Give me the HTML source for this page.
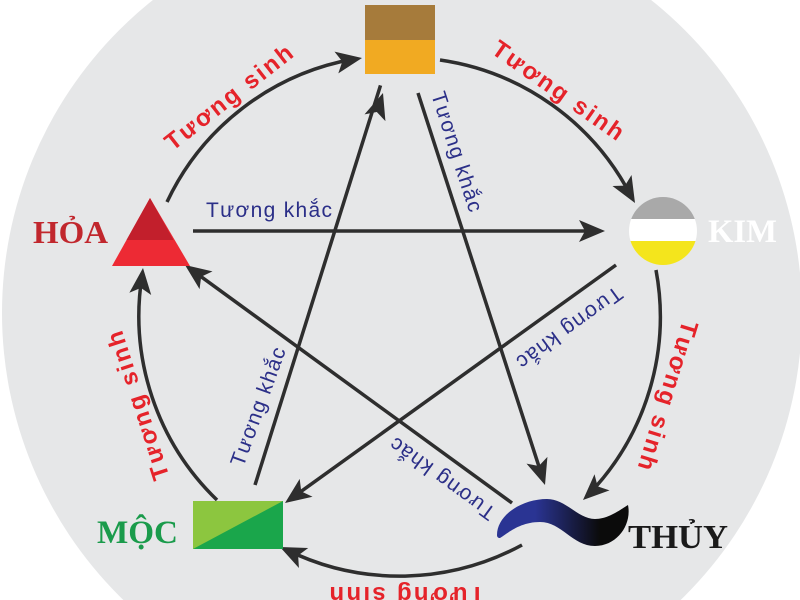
<!DOCTYPE html>
<html>
<head>
<meta charset="utf-8">
<style>
html,body{margin:0;padding:0;background:#fff;width:800px;height:600px;overflow:hidden;}
svg{display:block;overflow:hidden;}
.red{font-family:"Liberation Sans",Arial,sans-serif;font-weight:bold;font-size:24px;fill:#e5232a;}
.navy{font-family:"Liberation Sans",Arial,sans-serif;font-size:21px;fill:#2b2f88;}
.el{font-family:"Liberation Serif","Times New Roman",serif;font-weight:bold;}
</style>
</head>
<body>
<svg width="800" height="600" viewBox="0 0 800 600" xmlns="http://www.w3.org/2000/svg">
  <defs>
    <linearGradient id="wave" x1="535" y1="0" x2="600" y2="0" gradientUnits="userSpaceOnUse">
      <stop offset="0" stop-color="#2a3493"/>
      <stop offset="1" stop-color="#0b0b0b"/>
    </linearGradient>
    <clipPath id="frame"><rect x="0" y="0" width="800" height="600"/></clipPath>
    <clipPath id="kc"><circle cx="663" cy="231" r="34"/></clipPath>
  </defs>
  <g clip-path="url(#frame)">
  <rect width="800" height="600" fill="#ffffff"/>
  <circle cx="402" cy="313" r="400" fill="#e6e7e8"/>

  <!-- Tương khắc straight lines -->
  <g stroke="#2e2e2e" stroke-width="3.5" fill="none">
    <path d="M193,231 L597,231"/>
    <path d="M418,93 L542.5,477.4"/>
    <path d="M616,265 L291.5,498.3"/>
    <path d="M512,503 L191.5,269.7"/>
    <path d="M255,485 L380.5,85.4"/>
  </g>

  <!-- Tương sinh arcs -->
  <g stroke="#2e2e2e" stroke-width="3.5" fill="none">
    <path d="M167,202 A256,256 0 0 1 354,59"/>
    <path d="M440,60 A256,256 0 0 1 631,196"/>
    <path d="M656,270 A256,256 0 0 1 589,494"/>
    <path d="M522,545 A256,256 0 0 1 287,550"/>
    <path d="M217,500 A256,256 0 0 1 142,276"/>
  </g>

  <!-- arrowheads -->
  <g fill="#2e2e2e">
    <path d="M0,0 L-26,-11 L-20,0 L-26,11 Z" transform="translate(362,58) rotate(-10)"/>
    <path d="M0,0 L-26,-11 L-20,0 L-26,11 Z" transform="translate(635,203) rotate(60)"/>
    <path d="M0,0 L-26,-11 L-20,0 L-26,11 Z" transform="translate(583,500) rotate(137)"/>
    <path d="M0,0 L-26,-11 L-20,0 L-26,11 Z" transform="translate(280,547) rotate(205)"/>
    <path d="M0,0 L-26,-11 L-20,0 L-26,11 Z" transform="translate(143,268) rotate(-84)"/>
    <path d="M0,0 L-26,-11 L-20,0 L-26,11 Z" transform="translate(605,231) rotate(0)"/>
    <path d="M0,0 L-26,-11 L-20,0 L-26,11 Z" transform="translate(545,485) rotate(72)"/>
    <path d="M0,0 L-26,-11 L-20,0 L-26,11 Z" transform="translate(285,503) rotate(144.3)"/>
    <path d="M0,0 L-26,-11 L-20,0 L-26,11 Z" transform="translate(185,265) rotate(216)"/>
    <path d="M0,0 L-26,-11 L-20,0 L-26,11 Z" transform="translate(383,93) rotate(-72)"/>
  </g>

  <!-- Top element (earth square) -->
  <rect x="365" y="5" width="70" height="35" fill="#a67b3b"/>
  <rect x="365" y="40" width="70" height="34" fill="#f1aa22"/>

  <!-- Hỏa triangle -->
  <polygon points="150,198 112,266 190,266" fill="#ed2a34"/>
  <polygon points="150,198 126.5,240 173.5,240" fill="#c21f2c"/>

  <!-- Kim circle -->
  <g clip-path="url(#kc)">
    <rect x="625" y="195" width="80" height="24" fill="#a9a9a9"/>
    <rect x="625" y="219" width="80" height="22" fill="#ffffff"/>
    <rect x="625" y="241" width="80" height="30" fill="#f4e51c"/>
  </g>

  <!-- Mộc rectangle -->
  <polygon points="193,501 283,501 283,549 193,549" fill="#1aa64b"/>
  <polygon points="193,501 283,501 193,549" fill="#8cc63f"/>

  <!-- Thủy wave -->
  <path d="M497,535 C497,515 522,499 547,499 C566,499 578,519 595,519 C608,519 620,510 628,505 C632,525 617,546 595,546 C572,546 562,522 540,522 C520,522 508,533 500,538 C498,538 497,537 497,535 Z" fill="url(#wave)"/>

  <!-- element names -->
  <text class="el" x="33" y="243" font-size="32" fill="#c1272d" textLength="75" lengthAdjust="spacingAndGlyphs">HỎA</text>
  <text class="el" x="708" y="242" font-size="33" fill="#ffffff" textLength="69" lengthAdjust="spacingAndGlyphs">KIM</text>
  <text class="el" x="97" y="543" font-size="33" fill="#1a9b4b" textLength="81" lengthAdjust="spacingAndGlyphs">MỘC</text>
  <text class="el" x="628" y="548" font-size="34" fill="#1a1a1a" textLength="100" lengthAdjust="spacingAndGlyphs">THỦY</text>

  <!-- Tương sinh labels -->
  <g transform="translate(230,99) rotate(-38)"><text class="red" x="0" y="6" text-anchor="middle" textLength="155">Tương sinh</text></g>
  <g transform="translate(557,92) rotate(35)"><text class="red" x="0" y="6" text-anchor="middle" textLength="155">Tương sinh</text></g>
  <g transform="translate(666,395) rotate(107)"><text class="red" x="0" y="6" text-anchor="middle" textLength="155">Tương sinh</text></g>
  <g transform="translate(407,593) rotate(180)"><text class="red" x="0" y="6" text-anchor="middle" textLength="155">Tương sinh</text></g>
  <g transform="translate(140,405) rotate(-108)"><text class="red" x="0" y="6" text-anchor="middle" textLength="155">Tương sinh</text></g>

  <!-- Tương khắc labels -->
  <text class="navy" x="206" y="217" textLength="126">Tương khắc</text>
  <g transform="translate(456,152) rotate(72)"><text class="navy" x="0" y="6" text-anchor="middle" textLength="125">Tương khắc</text></g>
  <g transform="translate(569,327) rotate(144)"><text class="navy" x="0" y="6" text-anchor="middle" textLength="125">Tương khắc</text></g>
  <g transform="translate(443,478) rotate(216)"><text class="navy" x="0" y="6" text-anchor="middle" textLength="125">Tương khắc</text></g>
  <g transform="translate(259,407) rotate(-70)"><text class="navy" x="0" y="6" text-anchor="middle" textLength="125">Tương khắc</text></g>
  </g>
</svg>
</body>
</html>
